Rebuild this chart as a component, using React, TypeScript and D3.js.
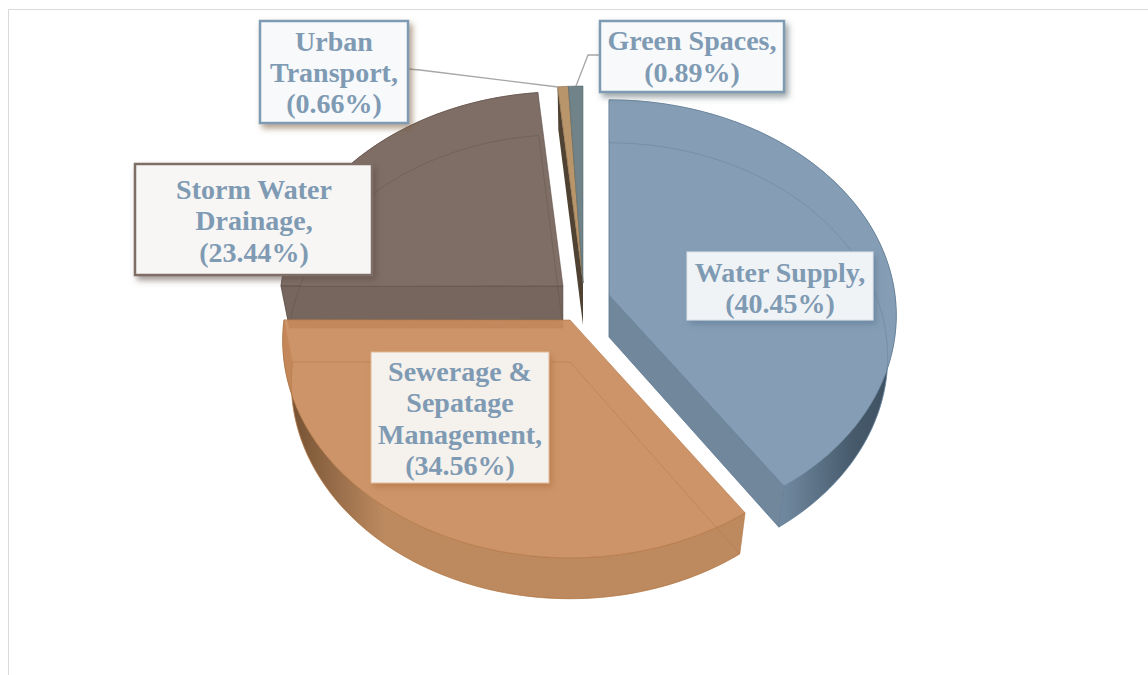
import React from "react";
import * as d3 from "d3";

const categories = ["Water Supply", "Sewerage & Sepatage Management", "Storm Water Drainage", "Urban Transport", "Green Spaces"];
const shares = [40.45, 34.56, 23.44, 0.66, 0.89];
const pctLabels = ["(40.45%)", "(34.56%)", "(23.44%)", "(0.66%)", "(0.89%)"];

const topFill = ["#859eb5", "#c98c5e", "#7f6e65", "#b8956a", "#6f8388"];
const edge = ["#5f7a94", "#b0733f", "#5f4f47", "#7a5c38", "#54666b"];
const wallDark = ["#465a6c", "#6e4d30", "#4c3f38", "#5a4630", "#4c5a5e"];
const wallLight = ["#7a93aa", "#bd8a60", "#75655c", "#9a7c58", "#66787d"];
const radial = ["#71879b", "#bd8a60", "#76665d", "#4f4232", "#66787d"];

const centers: [number, number][] = [[609, 295], [570, 320], [563, 286], [583, 283], [583, 283]];
const radiusX = [286, 286, 282, 286, 286];
const radiusY = [213.5, 215.5, 212.5, 215.5, 215.5];

const labelBoxes = [
  { i: 0, x: 687, y: 252, w: 186, h: 68, fill: "#f0f3f6", stroke: "#dbe3ea", sw: 1, lines: ["Water Supply,"], cx: 780, ys: [282, 313] },
  { i: 1, x: 371, y: 352, w: 178, h: 131, fill: "#f5f1ed", stroke: "#e0b898", sw: 1, lines: ["Sewerage &", "Sepatage", "Management,"], cx: 460, ys: [381, 412, 444, 475] },
  { i: 2, x: 135, y: 164, w: 237, h: 111, fill: "#f7f6f5", stroke: "#7f6e65", sw: 2.5, lines: ["Storm Water", "Drainage,"], cx: 254, ys: [199, 230, 262] },
  { i: 3, x: 260, y: 21, w: 148, h: 102, fill: "#f7f9fb", stroke: "#7f9ab3", sw: 2.5, lines: ["Urban", "Transport,"], cx: 334, ys: [51, 82, 113] },
  { i: 4, x: 600, y: 21, w: 184, h: 71, fill: "#f7f9fb", stroke: "#7f9ab3", sw: 2.5, lines: ["Green Spaces,"], cx: 692, ys: [50, 82] },
];

const leaders = [
  [[408, 69], [420, 70], [558, 87]],
  [[600, 55], [588, 55], [576, 86]],
];

const K = 0.094, DEPTH = 42, BOTTOM_X = 0.97, BOTTOM_Y = 0.995;

function project(i: number, a: number, r: number, bottom: boolean): [number, number] {
  const [cx, cy] = centers[i];
  const p = 1 / (1 + K * Math.cos(a));
  const sx = bottom ? BOTTOM_X : 1;
  const sy = bottom ? BOTTOM_Y : 1;
  return [cx + sx * radiusX[i] * r * Math.sin(a) * p, cy + (bottom ? DEPTH : 0) - sy * radiusY[i] * r * Math.cos(a) * p];
}

function arcPts(i: number, a0: number, a1: number, bottom: boolean) {
  const n = Math.max(4, Math.ceil(Math.abs(a1 - a0) / 0.02));
  return d3.range(n + 1).map((k) => project(i, a0 + ((a1 - a0) * k) / n, 1, bottom));
}

const line = d3.line();

export default function App() {
  const arcs = d3.pie<number>().sort(null).startAngle(0).endAngle(2 * Math.PI)(shares);

  const sector = (i: number, bottom: boolean) => {
    const a = arcs[i];
    return line([project(i, 0, 0, bottom), ...arcPts(i, a.startAngle, a.endAngle, bottom)])! + "Z";
  };
  const outerWall = (i: number) => {
    const a = arcs[i];
    const top = arcPts(i, a.startAngle, a.endAngle, false);
    const bot = arcPts(i, a.startAngle, a.endAngle, true).reverse();
    return line([...top, ...bot])! + "Z";
  };
  const endWall = (i: number, ang: number) =>
    line([project(i, 0, 0, false), project(i, ang, 1, false), project(i, ang, 1, true), project(i, 0, 0, true)])! + "Z";

  const order = [2, 3, 4, 0, 1];

  return (
    <svg width={1148} height={675} style={{ position: "absolute", left: 0, top: 0, background: "#fff" }}>
      <defs>
        {topFill.map((_, i) => {
          const a = arcs[i];
          const pts = arcPts(i, a.startAngle, a.endAngle, false);
          const ex = d3.extent(pts, (d) => d[0]) as [number, number];
          const horiz = i === 0
            ? [["0%", wallLight[i]], ["55%", wallLight[i]], ["85%", wallDark[i]], ["100%", "#3e5060"]]
            : [["0%", wallDark[i]], ["22%", wallLight[i]], ["100%", wallLight[i]]];
          return (
            <linearGradient key={i} id={`wall${i}`} gradientUnits="userSpaceOnUse" x1={ex[0]} x2={ex[1]} y1={0} y2={0}>
              {horiz.map(([o, c]) => <stop key={o} offset={o} stopColor={c} />)}
            </linearGradient>
          );
        })}
        {labelBoxes.map((b) => (
          <filter key={b.i} id={`sh${b.i}`} x="-20%" y="-20%" width="140%" height="140%">
            <feDropShadow dx={3} dy={4} stdDeviation={3} floodColor={edge[b.i]} floodOpacity={0.6} />
          </filter>
        ))}
      </defs>

      <path d="M8.5 675V9.5H1148" fill="none" stroke="#d9d9d9" strokeWidth={1} />

      {order.map((i) => {
        const a = arcs[i];
        return (
          <g key={i}>
            {i <= 2 && <path d={outerWall(i)} fill={`url(#wall${i})`} stroke={edge[i]} strokeWidth={0.6} />}
            {i === 2 && <path d={endWall(i, a.startAngle)} fill={radial[i]} stroke={edge[i]} strokeWidth={0.5} />}
            {i === 3 && <path d={endWall(i, a.startAngle)} fill={radial[i]} />}
            {i === 0 && <path d={endWall(i, a.endAngle)} fill={radial[i]} stroke={edge[i]} strokeWidth={0.6} />}
            <path d={sector(i, false)} fill={topFill[i]} fillOpacity={i === 1 ? 0.93 : 1} stroke={edge[i]} strokeWidth={0.7} strokeOpacity={0.8} />
            {i <= 2 && <path d={sector(i, true)} fill="none" stroke={edge[i]} strokeWidth={0.8} strokeOpacity={0.5} />}
          </g>
        );
      })}

      {leaders.map((pts, i) => (
        <path key={i} d={line(pts as [number, number][])!} fill="none" stroke="#a6a6a6" strokeWidth={1.3} />
      ))}

      {labelBoxes.map((b) => {
        const texts = [...b.lines, pctLabels[b.i]];
        return (
          <g key={b.i}>
            <rect x={b.x} y={b.y} width={b.w} height={b.h} fill={b.fill} stroke={b.stroke} strokeWidth={b.sw} filter={`url(#sh${b.i})`} />
            {texts.map((t, j) => (
              <text key={j} x={b.cx} y={b.ys[j]} textAnchor="middle" fill="#7f9ab3"
                style={{ fontFamily: "'Liberation Serif', serif", fontWeight: 700, fontSize: 28 }}>
                {t}
              </text>
            ))}
          </g>
        );
      })}
      <title>{categories.join(", ")}</title>
    </svg>
  );
}
